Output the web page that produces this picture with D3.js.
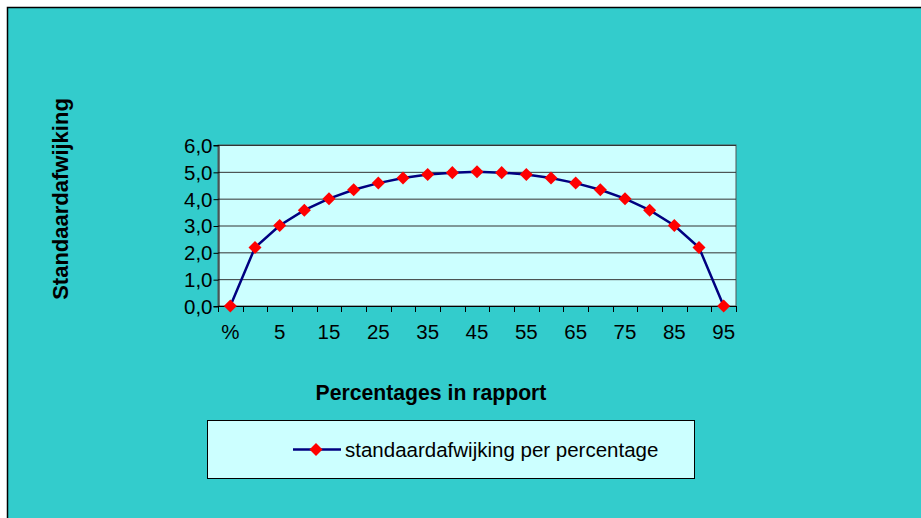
<!DOCTYPE html>
<html><head><meta charset="utf-8">
<script src="https://cdn.jsdelivr.net/npm/d3@7"></script>
<style>html,body{margin:0;padding:0;background:#fff}svg{display:block}</style>
</head><body><svg id="c" width="921" height="518"></svg>
<script>
const categories = ["%", "0", "5", "10", "15", "20", "25", "30", "35", "40", "45", "50", "55", "60", "65", "70", "75", "80", "85", "90", "95"];
const values = [0, 2.18, 3.0, 3.57, 4.0, 4.33, 4.58, 4.77, 4.9, 4.97, 5.0, 4.97, 4.9, 4.77, 4.58, 4.33, 4.0, 3.57, 3.0, 2.18, 0];
const yTicks = [0, 1, 2, 3, 4, 5, 6];
const seriesName = "standaardafwijking per percentage";
const xTitle = "Percentages in rapport";
const yTitle = "Standaardafwijking";

const svg = d3.select("#c");
const font = "'Liberation Sans', Arial, sans-serif";
const fs = 20.5;
svg.append("rect").attr("x", 7.5).attr("y", 7.5).attr("width", 920).attr("height", 520)
  .attr("fill", "#33CCCC").attr("stroke", "#000").attr("stroke-width", 1.5);

const L = 218, R = 736, T = 145, B = 306;
const x = d3.scaleBand().domain(categories).range([L, R]);
const y = d3.scaleLinear().domain([0, 6]).range([B, T]);

svg.append("rect").attr("x", L).attr("y", T).attr("width", R - L).attr("height", B - T)
  .attr("fill", "#CCFFFF").attr("stroke", "#555").attr("stroke-width", 1);

svg.append("g").selectAll("line").data(yTicks).join("line")
  .attr("x1", L).attr("x2", R).attr("y1", d => y(d) + 0.5).attr("y2", d => y(d) + 0.5)
  .attr("stroke", "#333").attr("stroke-width", 1);

const yAxis = svg.append("g").attr("transform", `translate(${L + 0.5},0)`)
  .call(d3.axisLeft(y).tickValues(yTicks).tickSize(5).tickFormat(d => d3.format(".1f")(d).replace(".", ",")));
yAxis.select(".domain").attr("stroke", "#000");
yAxis.selectAll("line").attr("stroke", "#000").attr("transform", "translate(0,0.5)");
yAxis.selectAll("text").attr("font-family", font).attr("font-size", fs).attr("fill", "#000").attr("x", -6).attr("dy", "0.36em");

// x axis with ticks at category boundaries
const xg = svg.append("g");
xg.append("line").attr("x1", L).attr("x2", R).attr("y1", B + 0.5).attr("y2", B + 0.5).attr("stroke", "#000");
const bounds = categories.map(c => x(c)).concat([R]);
xg.selectAll(".tk").data(bounds).join("line").attr("class", "tk")
  .attr("x1", d => Math.round(d) + 0.5).attr("x2", d => Math.round(d) + 0.5)
  .attr("y1", B).attr("y2", B + 6).attr("stroke", "#000");
xg.selectAll("text").data(categories.filter((c, i) => i % 2 === 0)).join("text")
  .attr("x", d => x(d) + x.bandwidth() / 2).attr("y", 339)
  .attr("text-anchor", "middle").attr("font-family", font).attr("font-size", fs).attr("fill", "#000")
  .text(d => d);

const line = d3.line().x((d, i) => x(categories[i]) + x.bandwidth() / 2).y(d => y(d));
svg.append("path").datum(values).attr("d", line).attr("fill", "none")
  .attr("stroke", "#000080").attr("stroke-width", 2.5);

svg.append("g").selectAll("path").data(values).join("path")
  .attr("transform", (d, i) => `translate(${x(categories[i]) + x.bandwidth() / 2},${y(d)}) rotate(45)`)
  .attr("d", d3.symbol().type(d3.symbolSquare).size(85)).attr("fill", "#FF0000");

svg.append("text").attr("x", 431).attr("y", 400).attr("text-anchor", "middle")
  .attr("font-family", font).attr("font-size", 21.2).attr("font-weight", "bold").text(xTitle);
svg.append("text").attr("transform", "translate(68,199) rotate(-90)").attr("text-anchor", "middle")
  .attr("font-family", font).attr("font-size", 22).attr("font-weight", "bold").text(yTitle);

// legend
svg.append("rect").attr("x", 207.5).attr("y", 420.5).attr("width", 487).attr("height", 58)
  .attr("fill", "#CCFFFF").attr("stroke", "#000").attr("stroke-width", 1);
svg.append("line").attr("x1", 293).attr("x2", 341).attr("y1", 449.5).attr("y2", 449.5)
  .attr("stroke", "#000080").attr("stroke-width", 2.5);
svg.append("path").attr("transform", "translate(316,449.5) rotate(45)")
  .attr("d", d3.symbol().type(d3.symbolSquare).size(85)).attr("fill", "#FF0000");
svg.append("text").attr("x", 345).attr("y", 457).attr("font-family", font).attr("font-size", fs)
  .attr("fill", "#000").text(seriesName);
</script></body></html>
